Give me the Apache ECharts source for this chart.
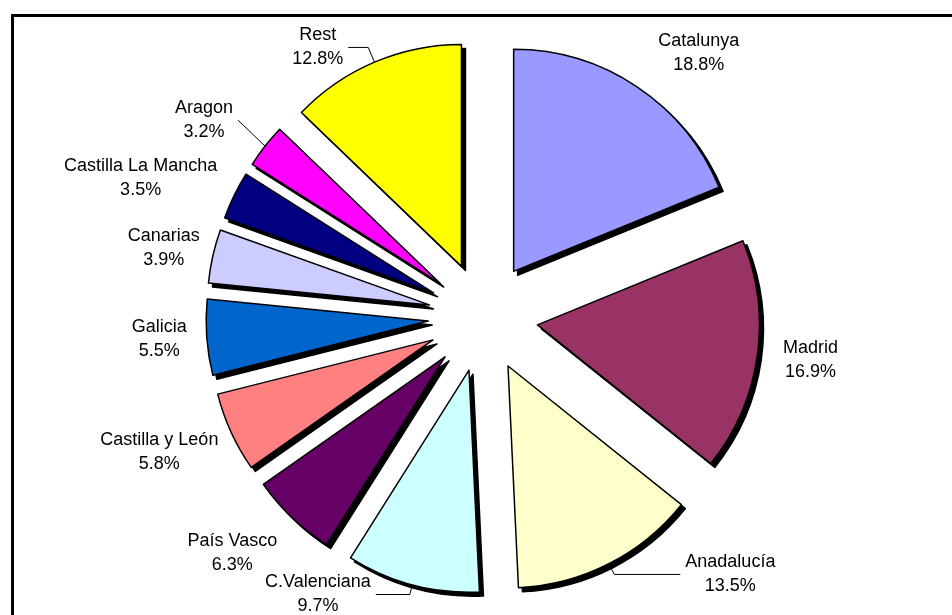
<!DOCTYPE html>
<html><head><meta charset="utf-8">
<script src="https://cdn.jsdelivr.net/npm/echarts@6/dist/echarts.min.js"></script>
<style>html,body{margin:0;padding:0;background:#fff}#c{width:952px;height:615px}</style>
</head><body><div id="c"></div>
<script>
const regions = ['Catalunya', 'Madrid', 'Anadalucía', 'C.Valenciana', 'País Vasco', 'Castilla y León', 'Galicia', 'Canarias', 'Castilla La Mancha', 'Aragon', 'Rest'];
const shares = [18.8, 16.9, 13.5, 9.7, 6.3, 5.8, 5.5, 3.9, 3.5, 3.2, 12.8];
const sliceColors = ['#9999FF', '#993366', '#FFFFCC', '#CCFFFF', '#660066', '#FF8080', '#0066CC', '#CCCCFF', '#000080', '#FF00FF', '#FFFF00'];
// label placement per slice: [show leader line, length, length2, distance]
const labelPlacement = [
  [false, 41, -2, 0], [false, 25, 1, 0], [true, 12, 66, 5], [true, 10, 34, 5],
  [false, 49, -19, 0], [false, 47, -30, 0], [false, 20, 0, 0], [false, 37, -23, 0],
  [false, 40, -19, 0], [true, 42, -6, 5], [true, 16, 20, 5]
];

const FONT = '"Liberation Sans", Arial, sans-serif';
const CENTER = [483, 317];
const RADIUS = 222;
const OFFSET = 55;

const mainData = regions.map((name, i) => ({
  name: name,
  value: shares[i],
  selected: true,
  itemStyle: { color: sliceColors[i] },
  label: { distanceToLabelLine: labelPlacement[i][3] },
  labelLine: { show: labelPlacement[i][0], length: labelPlacement[i][1], length2: labelPlacement[i][2] }
}));
const shadowData = regions.map((name, i) => ({ name: name, value: shares[i], selected: true }));

const common = {
  type: 'pie',
  radius: RADIUS,
  startAngle: 90,
  clockwise: true,
  selectedMode: 'multiple',
  selectedOffset: OFFSET,
  avoidLabelOverlap: false,
  silent: true,
  emphasis: { disabled: true, scale: false }
};

const chart = echarts.init(document.getElementById('c'), null, { renderer: 'canvas' });
chart.setOption({
  animation: false,
  backgroundColor: '#ffffff',
  graphic: [{
    type: 'rect', left: 10, top: 13, silent: true,
    shape: { x: 0, y: 0, width: 970, height: 640 },
    style: { fill: 'none', stroke: '#000', lineWidth: 3 }
  }],
  series: [
    Object.assign({}, common, {
      name: 'shadow',
      center: [CENTER[0] + 4, CENTER[1] + 4],
      itemStyle: { color: '#000', borderColor: '#000', borderWidth: 1.5 },
      select: { itemStyle: { color: '#000', borderColor: '#000', borderWidth: 1.5 } },
      label: { show: false },
      labelLine: { show: false },
      data: shadowData
    }),
    Object.assign({}, common, {
      name: 'share',
      center: CENTER,
      itemStyle: { borderColor: '#000', borderWidth: 1.5 },
      select: { itemStyle: { borderColor: '#000', borderWidth: 1.5 } },
      labelLayout: { hideOverlap: false, moveOverlap: null },
      label: {
        show: true,
        position: 'outside',
        alignTo: 'none',
        fontFamily: FONT, fontSize: 18, lineHeight: 24, color: '#000',
        formatter: p => '{t|' + p.name + '}\n{t|' + p.value + '%}',
        rich: { t: { align: 'center', fontFamily: FONT, fontSize: 18, lineHeight: 24, color: '#000' } }
      },
      labelLine: { lineStyle: { color: '#000', width: 1 }, smooth: false },
      data: mainData
    })
  ]
});
</script>
</body></html>
